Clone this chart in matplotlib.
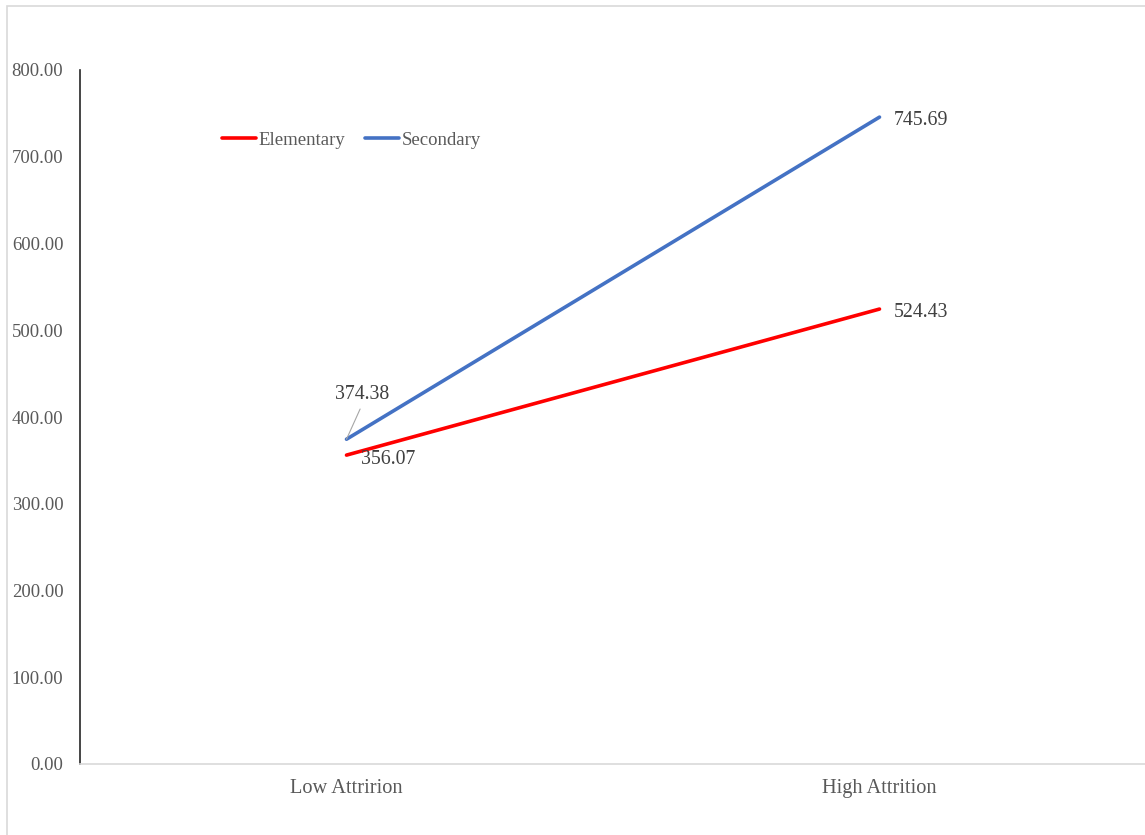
import matplotlib
matplotlib.use("Agg")
import matplotlib.pyplot as plt
from matplotlib.patches import Rectangle

categories = ["Low Attririon", "High Attrition"]
elementary = [356.07, 524.43]
secondary = [374.38, 745.69]
yticks = [0, 100, 200, 300, 400, 500, 600, 700, 800]

W, H = 1145, 835
plt.rcParams["font.family"] = ["Liberation Serif", "DejaVu Serif"]
text_col = "#595959"

fig = plt.figure(figsize=(W / 100, H / 100), dpi=100)
# chart frame: only the left and top edges fall inside the image
fig.add_artist(Rectangle((7 / W, -0.1), 1.2, 1 - 6 / H + 0.1, transform=fig.transFigure,
                         fill=False, edgecolor="#d9d9d9", lw=1.2))
ax = fig.add_axes([80 / W, 1 - 764 / H, 1066 / W, (764 - 70) / H])

x = range(len(categories))
ax.plot(x, elementary, color="#ff0000", lw=2.6, label="Elementary", solid_capstyle="round")
ax.plot(x, secondary, color="#4472c4", lw=2.6, label="Secondary", solid_capstyle="round")

ax.set_xlim(-0.5, 1.5)
ax.set_ylim(0, 800)
ax.set_yticks(yticks)
ax.set_yticklabels([f"{v:.2f}" for v in yticks])
ax.set_xticks(list(x))
ax.set_xticklabels(categories)
ax.tick_params(axis="y", length=0, pad=12, labelsize=13.5, labelcolor=text_col)
ax.tick_params(axis="x", length=0, pad=10.5, labelsize=14.7, labelcolor=text_col)

for side in ("top", "right"):
    ax.spines[side].set_visible(False)
ax.spines["left"].set_color("#262626")
ax.spines["left"].set_linewidth(1.2)
ax.spines["bottom"].set_color("#d9d9d9")
ax.spines["bottom"].set_linewidth(1.2)

lab = dict(fontsize=14.3, color="#404040", va="center", ha="left", textcoords="offset pixels")
ax.annotate(f"{elementary[0]:.2f}", (0, elementary[0]), xytext=(15, -4), **lab)
ax.annotate(f"{elementary[1]:.2f}", (1, elementary[1]), xytext=(14, -3), **lab)
ax.annotate(f"{secondary[1]:.2f}", (1, secondary[1]), xytext=(14, -3), **lab)
ax.annotate(f"{secondary[0]:.2f}", (0, secondary[0]), xytext=(16, 45),
            textcoords="offset pixels", fontsize=14.3, color="#404040", ha="center", va="center",
            arrowprops=dict(arrowstyle="-", color="#a6a6a6", lw=0.8, relpos=(0.5, 0),
                            shrinkA=2, shrinkB=0))

leg = fig.legend(loc="center left", bbox_to_anchor=(222 / W, 1 - 140 / H), ncol=2, frameon=False,
                 fontsize=13.5, handlelength=1.8, handletextpad=0.15, columnspacing=1.07,
                 borderpad=0, borderaxespad=0)
for t in leg.get_texts():
    t.set_color(text_col)

fig.savefig("out.png", dpi=100)
